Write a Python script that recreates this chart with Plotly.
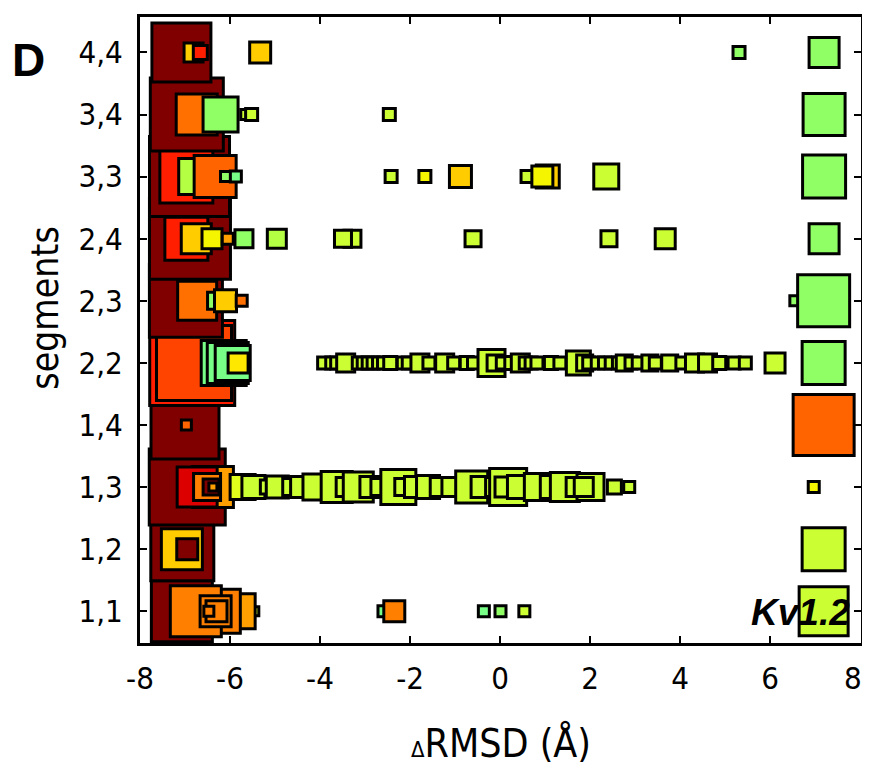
import plotly.graph_objects as go

# ---------------- data ----------------
segments = ["1,1", "1,2", "1,3", "1,4", "2,2", "2,3", "2,4", "3,3", "3,4", "4,4"]
x_ticks = [-8, -6, -4, -2, 0, 2, 4, 6, 8]

# colour classes (0 = dark red ... 15 = mint green)
palette = ["#800000", "#DC0000", "#FF1E00", "#FF4400", "#FF6400", "#FF7000",
           "#FF8000", "#FFA000", "#FFCC00", "#FFE800", "#F5F500", "#E0FF1A",
           "#CCFF33", "#B4FF44", "#90FF66", "#78FF88"]

# per segment pair: dRMSD value, cluster population (box size), colour class
d_11 = [-7.07, -5.46, -5.83, -6.26, -6.76, -6.32, -6.30, -6.47, -2.59, -2.35, -0.36, 0.01, 0.54, 7.19]
n_11 = [64, 12, 38, 47, 54, 34, 24, 13, 14, 24, 14, 14, 14, 52]
c_11 = [0, 12, 7, 6, 6, 6, 6, 6, 15, 6, 15, 14, 12, 12]

d_12 = [-7.06, -7.07, -6.95, 7.19]
n_12 = [66, 44, 24, 46]
c_12 = [0, 8, 0, 12]

d_13 = [-6.95, -6.38, -6.73, -6.51, -6.42, -6.38,
        -5.72, -5.48, -5.17, -4.95, -4.64, -4.42, -4.09, -3.63, -3.43, -3.15,
        -2.88, -2.68, -2.26, -2.15, -1.89, -1.60, -1.34, -1.08, -0.63, -0.41,
        -0.11, 0.18, 0.11, 0.42, 0.84, 1.15, 1.44, 1.68, 2.01, 1.86, 2.54, 2.87,
        6.97]
n_13 = [79, 44, 43, 30, 19, 11,
        28, 26, 17, 25, 20, 24, 29, 34, 22, 33,
        24, 20, 38, 20, 24, 26, 22, 22, 35, 24,
        22, 40, 23, 26, 30, 26, 32, 22, 30, 22, 17, 14,
        14]
c_13 = [0, 7, 1, 6, 0, 7,
        11, 12, 12, 12, 12, 12, 12, 12, 12, 12,
        12, 12, 12, 12, 12, 12, 12, 12, 12, 12,
        12, 12, 12, 12, 12, 12, 12, 12, 12, 12, 12, 12,
        10]

d_14 = [-7.00, -6.97, 7.19]
n_14 = [71, 13, 64]
c_14 = [0, 4, 4]

d_22 = [-6.84, -6.80, -6.14, -6.05, -5.94, -5.82,
        -3.92, -3.74, -3.63, -3.43, -3.15, -3.04, -2.93, -2.82, -2.70, -2.59,
        -2.44, -2.15, -2.04, -1.78, -1.58, -1.23, -1.03, -0.74, -0.59, -0.19,
        -0.11, 0.05, 0.25, 0.45, 0.56, 0.69, 0.82, 1.13, 1.33, 1.74, 1.88, 1.97,
        2.16, 2.32, 2.47, 2.63, 2.76, 2.91, 3.07, 3.33, 3.45, 3.77, 4.04, 4.32,
        4.61, 4.87, 5.20, 5.45, 6.11,
        7.19]
n_22 = [88, 78, 48, 44, 38, 23,
        15, 15, 15, 21, 15, 15, 15, 15, 15, 15,
        16, 15, 15, 21, 15, 21, 15, 16, 15, 30,
        19, 15, 16, 21, 15, 15, 15, 16, 15, 27, 19, 15,
        15, 15, 15, 15, 19, 15, 15, 19, 15, 19, 15, 21,
        21, 16, 15, 15, 23,
        46]
c_22 = [2, 3, 15, 15, 15, 9] + [12] * 49 + [14]

d_23 = [-6.98, -6.73, -6.31, -6.10, -5.74, 6.55, 7.19]
n_23 = [76, 42, 20, 25, 14, 13, 55]
c_23 = [0, 5, 14, 8, 5, 14, 14]

d_24 = [-6.89, -6.97, -6.75, -6.40, -6.05, -5.69, -4.96, -3.28, -3.49, -0.60, 2.42, 3.67, 7.20]
n_24 = [84, 46, 33, 23, 14, 21, 22, 20, 20, 19, 19, 23, 33]
c_24 = [0, 2, 8, 10, 7, 14, 13, 12, 12, 12, 12, 12, 14]

d_33 = [-6.90, -6.97, -6.74, -6.33, -6.10, -5.87, -2.42, -1.67, -0.88, 0.60, 1.06, 0.94, 2.36, 7.20]
n_33 = [83, 56, 39, 45, 13, 14, 15, 15, 25, 15, 26, 24, 28, 46]
c_33 = [0, 2, 13, 4, 14, 15, 12, 10, 8, 12, 8, 10, 12, 14]

d_34 = [-6.96, -6.74, -6.21, -5.65, -5.52, -2.46, 7.20]
n_34 = [76, 44, 38, 13, 15, 15, 45]
c_34 = [0, 5, 14, 12, 12, 12, 14]

d_44 = [-7.08, -6.81, -6.66, -5.33, 5.31, 7.20]
n_44 = [62, 22, 17, 24, 15, 33]
c_44 = [0, 8, 2, 8, 14, 14]

rows = [(d_11, n_11, c_11), (d_12, n_12, c_12), (d_13, n_13, c_13), (d_14, n_14, c_14),
        (d_22, n_22, c_22), (d_23, n_23, c_23), (d_24, n_24, c_24), (d_33, n_33, c_33),
        (d_34, n_34, c_34), (d_44, n_44, c_44)]

# ---------------- figure ----------------
ncol = len(palette) - 1
colorscale = [[i / ncol, col] for i, col in enumerate(palette)]
BORDER = 3

fig = go.Figure()
for yi, (d, n, c) in enumerate(rows):
    fig.add_trace(go.Scatter(
        x=d, y=[yi] * len(d), mode="markers",
        marker=dict(symbol="square", size=[v - BORDER for v in n], opacity=1,
                    color=c, colorscale=colorscale, cmin=0, cmax=ncol,
                    line=dict(color="black", width=BORDER)),
        showlegend=False, hoverinfo="skip"))

TICKFONT = "DejaVu Sans Condensed, Liberation Sans Narrow, Open Sans, sans-serif"

# last x tick label is placed as an annotation so it is not cut at the page edge
x_ticktext = [str(v) for v in x_ticks[:-1]] + [""]

fig.update_layout(
    width=862, height=760,
    margin=dict(l=132, r=6, t=7, b=125),
    paper_bgcolor="white", plot_bgcolor="white",
    xaxis=dict(range=[-8, 8.02], tickvals=x_ticks, ticktext=x_ticktext,
               showgrid=False, zeroline=False, showline=True, linecolor="black",
               linewidth=3, mirror="ticks", ticks="inside", ticklen=7, tickwidth=2,
               tickcolor="black", ticklabelstandoff=6,
               tickfont=dict(family=TICKFONT, size=31, color="black")),
    yaxis=dict(range=[-0.51, 9.57], tickvals=list(range(len(segments))), ticktext=segments,
               showgrid=False, zeroline=False, showline=True, linecolor="black",
               linewidth=3, mirror="ticks", ticks="inside", ticklen=7, tickwidth=2,
               tickcolor="black", ticklabelstandoff=8,
               tickfont=dict(family=TICKFONT, size=31, color="black")),
    annotations=[
        dict(text=str(x_ticks[-1]), xref="paper", yref="paper", x=0.989, y=-0.024,
             showarrow=False, xanchor="center", yanchor="top",
             font=dict(family=TICKFONT, size=31, color="black")),
        dict(text="segments", xref="paper", yref="paper", x=-0.131, y=0.535,
             textangle=-90, showarrow=False, xanchor="center", yanchor="middle",
             font=dict(family=TICKFONT, size=37, color="black")),
        dict(text="<span style='font-size:22px'>Δ</span>RMSD (Å)", xref="paper", yref="paper",
             x=0.5, y=-0.159, showarrow=False, xanchor="center", yanchor="middle",
             font=dict(family=TICKFONT, size=39, color="black")),
        dict(text="<b>D</b>", xref="paper", yref="paper", x=-0.155, y=0.932,
             showarrow=False, xanchor="center", yanchor="middle",
             font=dict(family="Liberation Sans, Arial, sans-serif", size=46, color="black")),
        dict(text="<b><i>Kv1.2</i></b>", xref="paper", yref="paper", x=0.916, y=0.048,
             showarrow=False, xanchor="center", yanchor="middle",
             font=dict(family="Liberation Sans, Arial, sans-serif", size=37, color="black")),
    ],
)

fig.write_html("out.html")
